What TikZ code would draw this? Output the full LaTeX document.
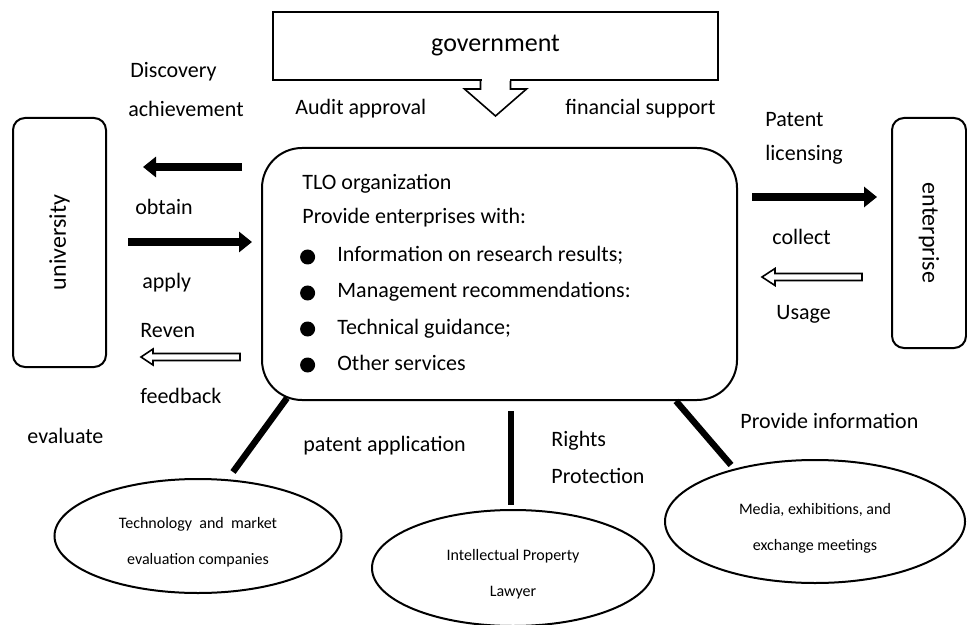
\documentclass[tikz,border=0pt]{standalone}
\usepackage{fontspec}
\setmainfont{Carlito}
\usetikzlibrary{shapes.geometric, arrows.meta, positioning, calc}

\begin{document}
\begin{tikzpicture}[
    x=0.5pt, y=-0.5pt,
    lbl/.style={font=\fontsize{11pt}{13pt}\selectfont, inner sep=0pt, anchor=west, text height=7.5pt, text depth=2.5pt},
    govbox/.style={rectangle, draw, line width=1pt, minimum width=222.5pt, minimum height=34pt, font=\fontsize{13pt}{15pt}\selectfont},
    sidebox/.style={rectangle, draw, line width=1pt, rounded corners=6pt, font=\fontsize{12pt}{14pt}\selectfont},
    tlobox/.style={rectangle, draw, line width=1pt, rounded corners=20pt, minimum width=237.5pt, minimum height=126pt},
    oval/.style={ellipse, draw, line width=1pt, align=center, text height=30pt, font=\fontsize{8pt}{18pt}\selectfont},
    dot/.style={circle, fill, inner sep=0pt, minimum size=7.5pt},
    fat/.style={draw, line width=4pt, -{Triangle[length=6.5pt, width=10pt]}},
    hollow/.style={draw, fill=white, line width=0.8pt, line join=miter},
    link/.style={draw, line width=3.2pt}
]
\useasboundingbox (0,0) rectangle (967,625);

% Boxes
\node [govbox] (gov) at (495.5,46) {government};
\node [sidebox, rotate=90, minimum width=124.5pt, minimum height=46.5pt] (uni) at (59.5,242.5) {university};
\node [tlobox] (tlo) at (499.5,274) {};
\node [sidebox, rotate=-90, minimum width=115pt, minimum height=37pt] (ent) at (929,233) {enterprise};

% TLO contents
\node [lbl] (tt) at (302,185) {TLO organization};
\node [lbl] (tp) at (302,219) {Provide enterprises with:};
\node [lbl] (i1) at (337,257) {Information on research results;};
\node [lbl] (i2) at (337,293) {Management recommendations:};
\node [lbl] (i3) at (337,329) {Technical guidance;};
\node [lbl] (i4) at (337,365) {Other services};
\node [dot, left=10.75pt of i1] (d1) {};
\node [dot, left=10.75pt of i2] (d2) {};
\node [dot, left=10.75pt of i3] (d3) {};
\node [dot, left=10.75pt of i4] (d4) {};

% Partners below
\node [oval, minimum width=143.5pt, minimum height=57pt] (eval) at (198,536) {Technology\ \ and\ \ market\\evaluation companies};
\node [oval, minimum width=141pt, minimum height=58pt] (law) at (513,568) {Intellectual Property\\Lawyer};
\node [oval, minimum width=150pt, minimum height=61.5pt] (media) at (815,521.5) {Media, exhibitions, and\\exchange meetings};

% Labels
\node [lbl] (disc) at (130,73) {Discovery};
\node [lbl] (ach) at (128,112) {achievement};
\node [lbl] (audit) at (295,110) {Audit approval};
\node [lbl] (fin) at (565,110) {financial support};
\node [lbl] (obt) at (135,210) {obtain};
\node [lbl] (app) at (142,284) {apply};
\node [lbl] (rev) at (140,332) {Reven};
\node [lbl] (fb) at (140,398) {feedback};
\node [lbl] (evl) at (27,438) {evaluate};
\node [lbl] (pat) at (765,122) {Patent};
\node [lbl] (lic) at (765,156) {licensing};
\node [lbl] (col) at (772,240) {collect};
\node [lbl] (use) at (776,315) {Usage};
\node [lbl] (papp) at (303,446) {patent application};
\node [lbl] (rig) at (551,441) {Rights};
\node [lbl] (prot) at (551,478) {Protection};
\node [lbl] (pinfo) at (740,423) {Provide information};

% Arrow ends
\coordinate (a1s) at (242,167);
\coordinate (a1e) at (143,167);
\coordinate (a2s) at (128,242);
\coordinate (a2e) at (252,242);
\coordinate (a3s) at (240,357);
\coordinate (a3e) at (141,357);
\coordinate (a4s) at (752,197);
\coordinate (a4e) at (877,197);
\coordinate (a5s) at (862,277);
\coordinate (a5e) at (762,277);

% Connectors
\path [fat] (a1s) -- (a1e);
\path [fat] (a2s) -- (a2e);
\path [fat] (a4s) -- (a4e);
\path [hollow] ($(a3s)+(0,-3.5)$) -- ($(a3e)+(12,-3.5)$) -- ($(a3e)+(12,-8)$) -- (a3e)
    -- ($(a3e)+(12,8)$) -- ($(a3e)+(12,3.5)$) -- ($(a3s)+(0,3.5)$) -- cycle;
\path [hollow] ($(a5s)+(0,-3.5)$) -- ($(a5e)+(13,-3.5)$) -- ($(a5e)+(13,-8.5)$) -- (a5e)
    -- ($(a5e)+(13,8.5)$) -- ($(a5e)+(13,3.5)$) -- ($(a5s)+(0,3.5)$) -- cycle;
\fill [white] ($(gov.south)+(-14,-1.5)$) rectangle ($(gov.south)+(14,1.5)$);
\draw [line width=0.8pt, line join=miter] ($(gov.south)+(-15,0)$) -- ++(0,8) -- ++(-16,0)
    -- ($(gov.south)+(0,35)$) -- ++(31,-27) -- ++(-16,0) -- ++(0,-8);

\path [link] ($(tlo.south west)+(26,-3)$) -- ($(eval.north)+(35,-6)$);
\path [link] ($(tlo.south)+(11.5,10)$) -- ($(law.north)+(-2,-4)$);
\path [link] ($(tlo.south east)+(-62,0)$) -- ($(media.north)+(-84,6)$);

\end{tikzpicture}
\end{document}
